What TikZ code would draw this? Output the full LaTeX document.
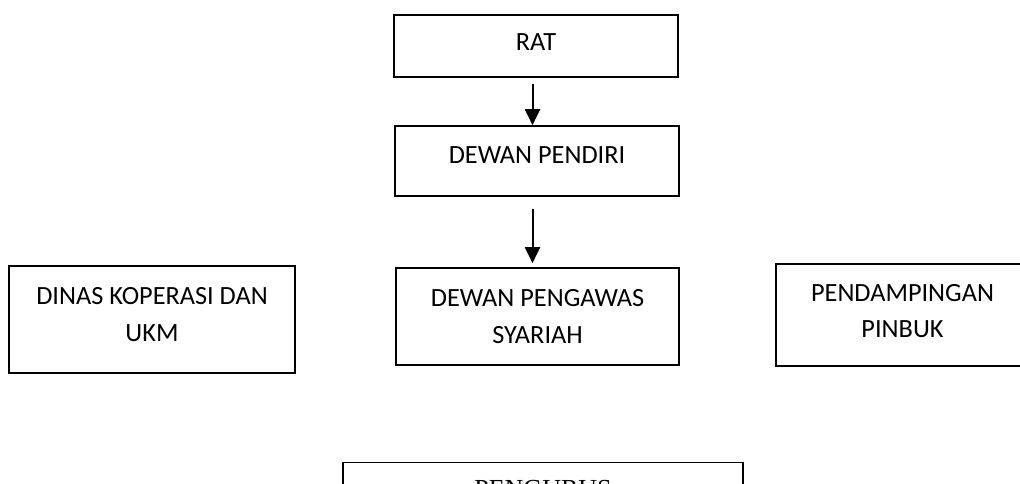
\documentclass[tikz,border=0pt]{standalone}
\usepackage{fontspec}
\setmainfont{Carlito}
\newfontfamily\timesface{Liberation Serif}
\usetikzlibrary{arrows.meta}
\newcommand{\textlift}[1]{\rule[-#1]{0pt}{#1}}

\begin{document}
\begin{tikzpicture}[x=1pt, y=1pt,
		unit/.style={draw, line width=1.6pt, align=center, inner sep=0pt,
			font=\fontsize{26.3}{36.7}\selectfont},
		flow/.style={-{Triangle[length=16pt, width=15pt]}, line width=2pt}]
		\clip (0,0) rectangle (1020,484);

		\node (rat) [unit, minimum width=284pt, minimum height=62pt] at (536,438) {RAT\textlift{8pt}};
		\node (pendiri) [unit, below of=rat, node distance=115pt, xshift=1pt, minimum width=284pt, minimum height=70pt] {DEWAN PENDIRI\textlift{12pt}};
		\node (pengawas) [unit, below of=pendiri, node distance=155.5pt, xshift=0.5pt, minimum width=283pt, minimum height=97pt] {DEWAN PENGAWAS\\SYARIAH};
		\node (dinas) [unit, left of=pengawas, node distance=385.5pt, yshift=-3pt, minimum width=286pt, minimum height=107pt] {DINAS KOPERASI DAN\\UKM\textlift{10pt}};
		\node (pinbuk) [unit, right of=pengawas, node distance=365pt, yshift=1.5pt, minimum width=253pt, minimum height=102pt] {PENDAMPINGAN\\PINBUK\textlift{8pt}};
		\node (pengurus) [unit, below of=pengawas, node distance=172.5pt, xshift=5.5pt, minimum width=400pt, minimum height=53pt, font=\timesface\fontsize{26}{30}\selectfont] {PENGURUS};

		\draw[flow, shorten <=6pt] ([xshift=-3.5pt]rat.south) -- ([xshift=-4.5pt]pendiri.north);
		\draw[flow, shorten <=12pt, shorten >=4pt] ([xshift=-4.5pt]pendiri.south) -- ([xshift=-5pt]pengawas.north);
	\end{tikzpicture}
\end{document}
